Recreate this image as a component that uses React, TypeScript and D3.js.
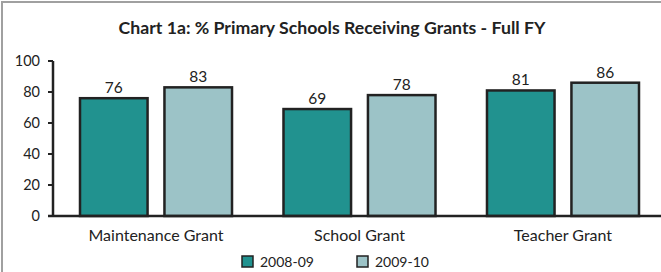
import React from "react";
import * as d3 from "d3";

const categories = ["Maintenance Grant", "School Grant", "Teacher Grant"];
const seriesNames = ["2008-09", "2009-10"];
const values2008 = [76, 69, 81];
const values2009 = [83, 78, 86];
const yTicks = [0, 20, 40, 60, 80, 100];
const title = "Chart 1a: % Primary Schools Receiving Grants - Full FY";

const colors = ["#21928f", "#9cc3c7"];
const FONT = "Lato, 'Open Sans', sans-serif";

export default function App() {
  const W = 661;
  const H = 272;
  const axisX = 53;
  const y = d3.scaleLinear().domain([0, 100]).range([216, 61]);
  const x0 = d3
    .scaleBand<string>()
    .domain(categories)
    .range([53, 666])
    .paddingInner(0.253)
    .paddingOuter(0.1327);
  const x1 = d3
    .scaleBand<string>()
    .domain(seriesNames)
    .range([0, x0.bandwidth()])
    .paddingInner(0.2);
  const series = [values2008, values2009];

  return (
    <svg
      width={W}
      height={H}
      style={{ position: "absolute", left: 0, top: 0, background: "#fff" }}
      fontFamily={FONT}
    >
      <rect x={2} y={2} width={W + 10} height={H + 10} fill="#fff" stroke="#a0a0a0" strokeWidth={2} />
      <text x={332} y={34} textAnchor="middle" fontSize={17.7} fontWeight={700} fill="#222">
        {title}
      </text>
      {yTicks.map((t) => (
        <g key={t}>
          <line x1={axisX - 5} x2={axisX} y1={y(t)} y2={y(t)} stroke="#222" strokeWidth={2} />
          <text x={40} y={y(t) + 5} textAnchor="end" fontSize={14.5} fill="#222">
            {t}
          </text>
        </g>
      ))}
      {categories.map((c, i) => (
        <g key={c} transform={`translate(${x0(c)},0)`}>
          {seriesNames.map((s, j) => {
            const v = series[j][i];
            const bx = x1(s)!;
            return (
              <g key={s}>
                <rect
                  x={bx}
                  y={y(v)}
                  width={x1.bandwidth()}
                  height={y(0) - y(v)}
                  fill={colors[j]}
                  stroke="#222"
                  strokeWidth={2.5}
                />
                <text
                  x={bx + x1.bandwidth() / 2}
                  y={y(v) - 5}
                  textAnchor="middle"
                  fontSize={15.5}
                  fill="#222"
                >
                  {v}
                </text>
              </g>
            );
          })}
          <text x={x0.bandwidth() / 2} y={241} textAnchor="middle" fontSize={16} fill="#222">
            {c}
          </text>
        </g>
      ))}
      <line x1={axisX} x2={axisX} y1={y(100)} y2={y(0)} stroke="#222" strokeWidth={2.5} />
      <line x1={axisX - 5} x2={W} y1={y(0)} y2={y(0)} stroke="#222" strokeWidth={2.5} />
      {seriesNames.map((s, j) => {
        const lx = j === 0 ? 242 : 357;
        return (
          <g key={s}>
            <rect x={lx} y={256} width={11} height={11} fill={colors[j]} stroke="#222" strokeWidth={1.5} />
            <text x={lx + 18} y={266.5} fontSize={14} fill="#222">
              {s}
            </text>
          </g>
        );
      })}
    </svg>
  );
}
